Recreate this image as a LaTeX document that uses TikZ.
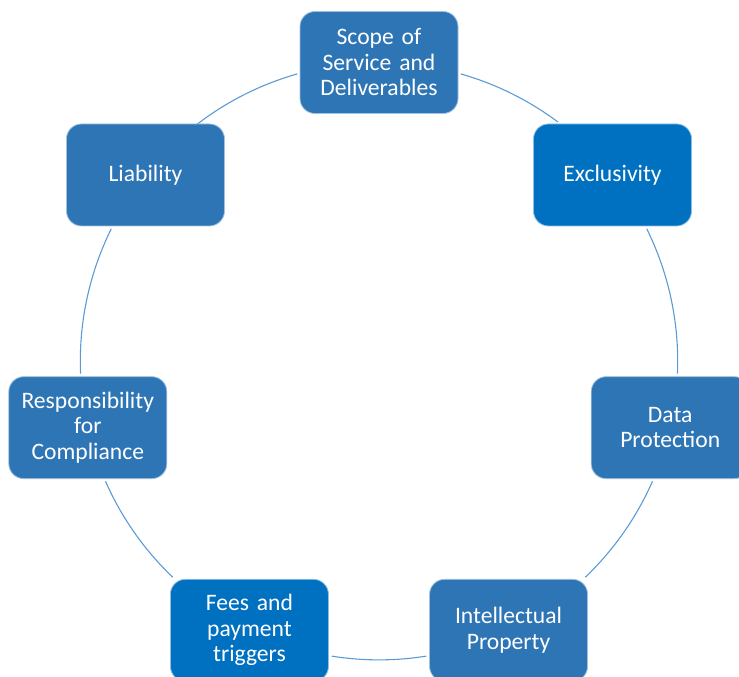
\documentclass[tikz,border=0pt]{standalone}
\usepackage{fontspec}
\setmainfont{Carlito}
\definecolor{boxA}{HTML}{2E75B6}
\definecolor{boxB}{HTML}{0070C0}
\definecolor{linkc}{HTML}{5B9BD5}
\begin{document}
\begin{tikzpicture}[x=1pt,y=1pt,
  item/.style={rectangle, rounded corners=15pt, minimum width=158pt, minimum height=102pt,
    inner sep=0pt, text width=150pt, align=center, text=white, line width=0.8pt,
    font=\fontsize{23.6}{25.5}\selectfont},
  itemA/.style={item, fill=boxA, draw=boxA!45!white},
  itemB/.style={item, fill=boxB, draw=boxB!45!white},
  link/.style={draw=linkc, line width=1.1pt}]
\useasboundingbox (0,0) rectangle (739,677);
\clip (0,0) rectangle (739,677);
\coordinate (C) at (379,315.8);
\def\R{298.7}
% arcs
\draw[link] ([shift={(74.1:\R)}]C) arc[start angle=74.1, end angle=53.2, radius=\R];
\draw[link] ([shift={(26.3:\R)}]C) arc[start angle=26.3, end angle=-2.4, radius=\R];
\draw[link] ([shift={(-23.7:\R)}]C) arc[start angle=-23.7, end angle=-46.3, radius=\R];
\draw[link] ([shift={(-80.9:\R)}]C) arc[start angle=-80.9, end angle=-99.1, radius=\R];
\draw[link] ([shift={(-133.7:\R)}]C) arc[start angle=-133.7, end angle=-156.3, radius=\R];
\draw[link] ([shift={(-177.6:\R)}]C) arc[start angle=-177.6, end angle=-206.3, radius=\R];
\draw[link] ([shift={(128.0:\R)}]C) arc[start angle=128.0, end angle=105.9, radius=\R];
% boxes
\node[itemA] (scope) at ([shift={(90:\R)}]C) {Scope of\\Service and\\Deliverables};
\node[itemB] (excl) at ([shift={(38.57:\R)}]C) {Exclusivity};
\node[itemA] (data) at ([shift={(-12.86:\R)}]C) {Data\\Protection};
\node[itemA] (ip) at ([shift={(-64.29:\R)}]C) {Intellectual\\Property};
\node[itemB] (fees) at ([shift={(-115.71:\R)}]C) {Fees and\\payment\\triggers};
\node[itemA] (resp) at ([shift={(-167.14:\R)}]C) {Responsibility\\for\\Compliance};
\node[itemA] (liab) at ([shift={(141.43:\R)}]C) {Liability};
\end{tikzpicture}
\end{document}
